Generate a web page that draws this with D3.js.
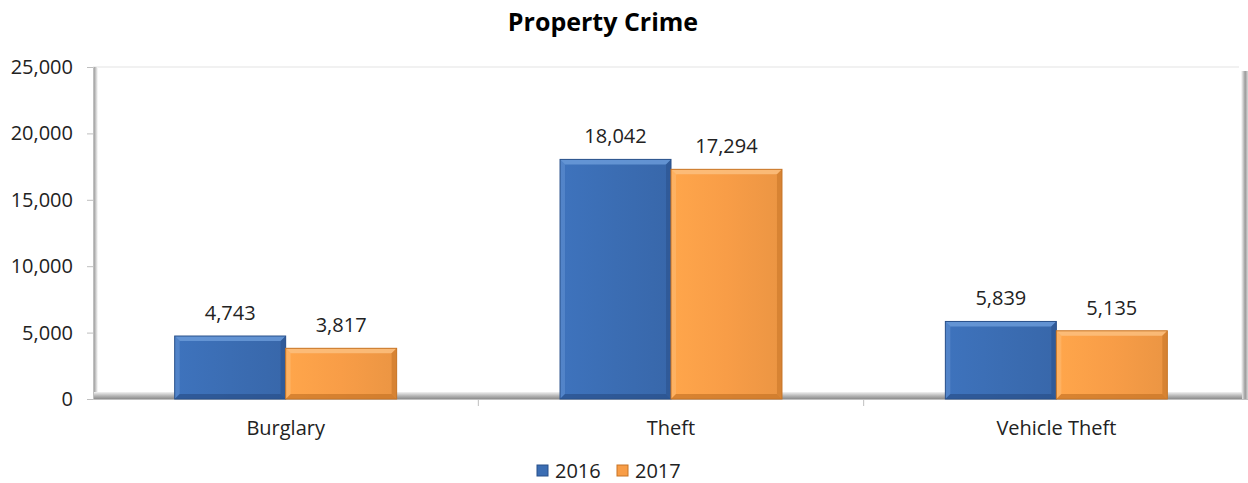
<!DOCTYPE html>
<html>
<head>
<meta charset="utf-8">
<script src="https://cdn.jsdelivr.net/npm/d3@7"></script>
<style>
  body { margin: 0; background: #fff; }
  text { font-family: "Open Sans", "Noto Sans", sans-serif; fill: #222; }
</style>
</head>
<body>
<div class="chart"></div>
<script>
var categories = ['Burglary', 'Theft', 'Vehicle Theft'];
var seriesNames = ['2016', '2017'];
var values2016 = [4743, 18042, 5839];
var values2017 = [3817, 17294, 5135];
var yTicks = [0, 5000, 10000, 15000, 20000, 25000];

var svgWidth = 1248;
var svgHeight = 483;
var plotLeft = 93, plotRight = 1249, plotTop = 67, plotBottom = 399;

var colors = {
    '2016': { main: '#3b6db3', light: '#6a9ad8', dark: '#29508a' },
    '2017': { main: '#f89d47', light: '#fcc07f', dark: '#c77526' }
};

var svg = d3.select('.chart').append('svg')
    .attr('width', svgWidth)
    .attr('height', svgHeight);

var defs = svg.append('defs');
seriesNames.forEach(function(s) {
    var g = defs.append('linearGradient').attr('id', 'grad' + s)
        .attr('x1', 0).attr('x2', 1).attr('y1', 0).attr('y2', 0);
    g.append('stop').attr('offset', '0%').attr('stop-color', d3.color(colors[s].main).brighter(0.15));
    g.append('stop').attr('offset', '50%').attr('stop-color', colors[s].main);
    g.append('stop').attr('offset', '100%').attr('stop-color', d3.color(colors[s].main).darker(0.15));
});
var wallGrad = defs.append('linearGradient').attr('id', 'wallShadow')
    .attr('x1', 0).attr('x2', 1).attr('y1', 0).attr('y2', 0);
wallGrad.append('stop').attr('offset', '0%').attr('stop-color', '#ffffff');
wallGrad.append('stop').attr('offset', '60%').attr('stop-color', '#9a9a9a');
wallGrad.append('stop').attr('offset', '100%').attr('stop-color', '#d8d8d8');
var floorGrad = defs.append('linearGradient').attr('id', 'floorShadow')
    .attr('x1', 0).attr('x2', 0).attr('y1', 0).attr('y2', 1);
floorGrad.append('stop').attr('offset', '0%').attr('stop-color', '#f2f2f2');
floorGrad.append('stop').attr('offset', '55%').attr('stop-color', '#b5b5b5');
floorGrad.append('stop').attr('offset', '100%').attr('stop-color', '#8c8c8c');
var leftGrad = defs.append('linearGradient').attr('id', 'leftShadow')
    .attr('x1', 0).attr('x2', 1).attr('y1', 0).attr('y2', 0);
leftGrad.append('stop').attr('offset', '0%').attr('stop-color', '#a0a0a0');
leftGrad.append('stop').attr('offset', '100%').attr('stop-color', '#ffffff');

var x0 = d3.scaleBand().domain(categories).range([plotLeft, plotRight]).padding(0);
var bw = x0.bandwidth();
var x1 = d3.scaleBand().domain(seriesNames).range([bw * 0.212, bw * 0.788]).padding(0);
var y = d3.scaleLinear().domain([0, 25000]).range([plotBottom, plotTop]);

// plot area walls
svg.append('line')
    .attr('x1', plotLeft).attr('x2', plotRight - 10)
    .attr('y1', y(25000)).attr('y2', y(25000))
    .attr('stroke', '#e3e3e3').attr('stroke-width', 1);
svg.append('rect')
    .attr('x', plotLeft + 1).attr('y', y(25000))
    .attr('width', 4).attr('height', plotBottom - y(25000))
    .attr('fill', 'url(#leftShadow)');
svg.append('rect')
    .attr('x', plotRight - 8).attr('y', y(25000) + 4)
    .attr('width', 7).attr('height', plotBottom - y(25000) - 4)
    .attr('fill', 'url(#wallShadow)');
svg.append('rect')
    .attr('x', plotLeft + 1).attr('y', plotBottom - 7)
    .attr('width', plotRight - plotLeft - 8).attr('height', 7)
    .attr('fill', 'url(#floorShadow)');

// axes
var yAxis = d3.axisLeft(y).tickValues(yTicks).tickSize(6).tickPadding(14)
    .tickFormat(d3.format(','));
var gy = svg.append('g').attr('transform', 'translate(' + plotLeft + ',0)').call(yAxis);
gy.select('.domain').attr('stroke', '#bfbfbf');
gy.selectAll('.tick line').attr('stroke', '#bfbfbf');
gy.selectAll('.tick text').attr('font-size', '20px').attr('fill', '#222')
    .attr('font-family', '"Open Sans", sans-serif');

var xAxis = d3.axisBottom(x0).tickSize(0).tickPadding(22);
var gx = svg.append('g').attr('transform', 'translate(0,' + plotBottom + ')').call(xAxis);
gx.select('.domain').attr('stroke', '#bfbfbf');
gx.selectAll('.tick text').attr('font-size', '20px').attr('fill', '#222')
    .attr('font-family', '"Open Sans", sans-serif');
// category separators
var seps = d3.range(categories.length + 1).map(function(i) { return plotLeft + i * bw; });
svg.selectAll('.sep').data(seps.slice(1, -1)).enter().append('line')
    .attr('x1', function(d) { return d; }).attr('x2', function(d) { return d; })
    .attr('y1', plotBottom).attr('y2', plotBottom + 7)
    .attr('stroke', '#bfbfbf');

// bars
var rows = [];
categories.forEach(function(c, i) {
    rows.push({ cat: c, series: '2016', value: values2016[i] });
    rows.push({ cat: c, series: '2017', value: values2017[i] });
});

var bev = 5;
var barG = svg.selectAll('.bar').data(rows).enter().append('g').attr('class', 'bar');
barG.each(function(d) {
    var g = d3.select(this);
    var bx = x0(d.cat) + x1(d.series);
    var w = x1.bandwidth();
    var by = y(d.value);
    var h = plotBottom - by;
    var c = colors[d.series];
    g.append('rect').attr('x', bx).attr('y', by).attr('width', w).attr('height', h)
        .attr('fill', 'url(#grad' + d.series + ')');
    // top bevel
    g.append('polygon').attr('points', [[bx, by], [bx + w, by], [bx + w - bev, by + bev], [bx + bev, by + bev]].join(' '))
        .attr('fill', c.light).attr('opacity', 0.85);
    // left bevel
    g.append('polygon').attr('points', [[bx, by], [bx + bev, by + bev], [bx + bev, plotBottom - bev], [bx, plotBottom]].join(' '))
        .attr('fill', c.light).attr('opacity', 0.45);
    // right bevel
    g.append('polygon').attr('points', [[bx + w, by], [bx + w, plotBottom], [bx + w - bev, plotBottom - bev], [bx + w - bev, by + bev]].join(' '))
        .attr('fill', c.dark).attr('opacity', 0.55);
    // bottom bevel
    g.append('polygon').attr('points', [[bx, plotBottom], [bx + w, plotBottom], [bx + w - bev, plotBottom - bev], [bx + bev, plotBottom - bev]].join(' '))
        .attr('fill', c.dark).attr('opacity', 0.7);
    g.append('rect').attr('x', bx).attr('y', by).attr('width', w).attr('height', h)
        .attr('fill', 'none').attr('stroke', c.dark).attr('stroke-width', 1);
    // data label
    g.append('text')
        .attr('x', bx + w / 2).attr('y', by - 16)
        .attr('text-anchor', 'middle')
        .attr('font-size', '20px')
        .text(d3.format(',')(d.value));
});

// title
svg.append('text')
    .attr('x', 603).attr('y', 31)
    .attr('text-anchor', 'middle')
    .attr('font-size', '25px')
    .attr('font-weight', 'bold')
    .attr('fill', '#000')
    .style('fill', '#000')
    .text('Property Crime');

// legend
var legend = svg.append('g').attr('transform', 'translate(537,465)');
var items = legend.selectAll('g').data(seriesNames).enter().append('g')
    .attr('transform', function(d, i) { return 'translate(' + i * 80 + ',0)'; });
items.append('rect').attr('width', 11).attr('height', 11)
    .attr('fill', function(d) { return colors[d].main; })
    .attr('stroke', function(d) { return colors[d].dark; });
items.append('text').attr('x', 18).attr('y', 13)
    .attr('font-size', '20px')
    .text(function(d) { return d; });
</script>
</body>
</html>
